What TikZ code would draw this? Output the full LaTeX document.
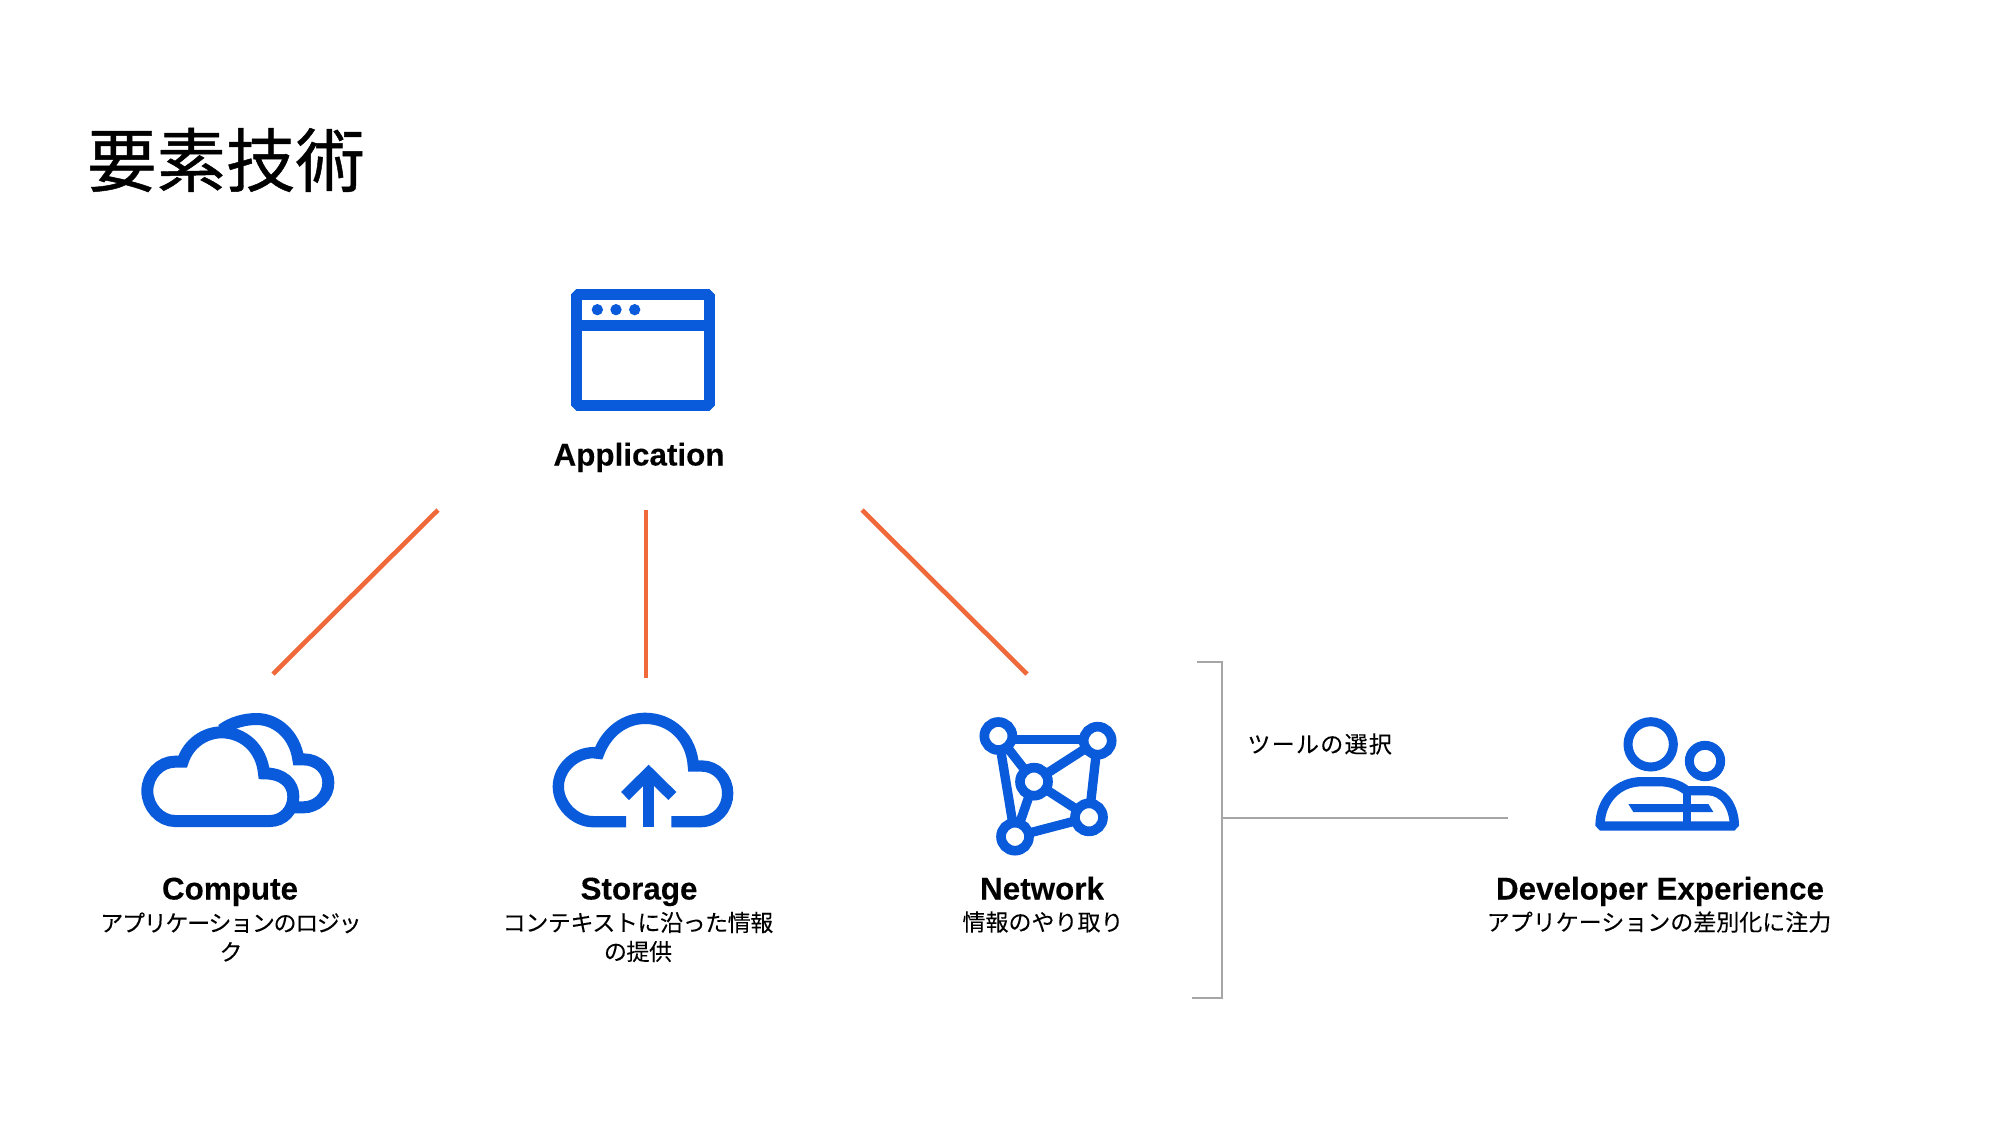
\documentclass[tikz,border=0pt]{standalone}
\usepackage{fontspec}
\setmainfont{Liberation Sans}[BoldFeatures={FakeBold=0.15}]
\newfontfamily\cjk{Noto Sans CJK JP}[FakeBold=0.08]
\newfontfamily\cjktitle{Noto Sans CJK JP}[FakeBold=0.7]
\newfontfamily\cjktight{Noto Sans CJK JP}[FakeBold=0.08,LetterSpace=-5.6]
\newfontfamily\cjkmid{Noto Sans CJK JP}[FakeBold=0.08,LetterSpace=-1.9]
\newfontfamily\cjkwide{Noto Sans CJK JP}[FakeBold=0.08,LetterSpace=5.6]
\definecolor{iconblue}{HTML}{0A5BDB}
\definecolor{linkorange}{HTML}{F0693A}
\definecolor{brk}{HTML}{A6A6A6}
\tikzset{
  icon/.style={x=0.16667pt,y=-0.16667pt,line join=miter,miter limit=10,draw=iconblue},
  ic/.style={draw=iconblue,line width=#1*0.16667pt},
  link/.style={draw=linkorange,line width=2.3pt},
  bracket/.style={draw=brk,line width=1pt},
  head/.style={font=\bfseries\fontsize{15.7}{18}\selectfont,inner sep=0pt,anchor=base},
  sub/.style={font=\cjk\fontsize{11.5}{14.5}\selectfont,inner sep=0pt,align=center,anchor=center},
}
\begin{document}
\begin{tikzpicture}[x=0.5pt,y=-0.5pt]
\useasboundingbox (0,0) rectangle (2000,1125);
\node[font=\cjktitle\fontsize{34.7}{40}\selectfont,inner sep=0pt,anchor=center] (title) at (226,160) {要素技術};

% Application icon
\begin{scope}[shift={(560,280)},icon]
\draw[ic=33,line join=bevel] (48,44) rectangle (448,376);
\draw[ic=33] (48,135) -- (448,135);
\fill[iconblue] (112,89) circle (17) (168,89) circle (17) (224,89) circle (17);
\end{scope}
\node[head] (app) at (639,465.5) {Application};

% connectors
\coordinate (c1a) at (438,510); \coordinate (c1b) at (273,674);
\coordinate (c2a) at (646,510); \coordinate (c2b) at (646,678);
\coordinate (c3a) at (862,510); \coordinate (c3b) at (1027,674);
\draw[link] (c1a) -- (c1b);
\draw[link] (c2a) -- (c2b);
\draw[link] (c3a) -- (c3b);

% Compute icon
\begin{scope}[shift={(120,690)},icon]
\draw[ic=36] (305,120) .. controls (335,97) and (375,87) .. (410,87) .. controls (470,87) and (525,135) .. (535,208) -- (550,208) .. controls (595,208) and (625,240) .. (625,278) .. controls (625,320) and (590,352) .. (550,352) -- (525,352);
\draw[ic=36] (165,393) -- (450,393) .. controls (490,393) and (520,360) .. (520,320) .. controls (520,280) and (490,250) .. (432,250) .. controls (425,175) and (370,127) .. (305,127) .. controls (255,127) and (205,160) .. (188,215) -- (165,215) .. controls (120,215) and (82,255) .. (82,303) .. controls (82,350) and (120,393) .. (165,393) -- cycle;
\end{scope}
\node[head] (compute) at (230,899.5) {Compute};
\node[sub,font=\cjktight\fontsize{11.5}{14.5}\selectfont] (computesub) at (231,937) {アプリケーションのロジッ\\ク};

% Storage icon
\begin{scope}[shift={(540,690)},icon]
\draw[ic=34] (258,395) -- (160,395) .. controls (105,395) and (55,345) .. (55,290) .. controls (55,235) and (105,188) .. (160,188) -- (176,190) .. controls (200,125) and (255,85) .. (315,85) .. controls (395,85) and (455,145) .. (460,228) -- (485,228) .. controls (530,228) and (563,265) .. (563,310) .. controls (563,355) and (530,395) .. (480,395) -- (394,395);
\draw[ic=34] (326,412) -- (326,260);
\draw[ic=34] (255,318) -- (326,248) -- (397,318);
\end{scope}
\node[head] (storage) at (639,899.5) {Storage};
\node[sub,font=\cjkmid\fontsize{11.5}{14.5}\selectfont] (storagesub) at (638,937) {コンテキストに沿った情報\\の提供};

% Network icon
\begin{scope}[shift={(960,700)},icon]
\coordinate (na) at (115,108);
\coordinate (nb) at (413,122);
\coordinate (nc) at (222,245);
\coordinate (nd) at (387,352);
\coordinate (ne) at (165,410);
\coordinate (nh1) at (115,118);
\coordinate (nh2) at (413,118);
\draw[ic=28] (nh1) -- (nh2);
\draw[ic=28] (nb) -- (nd) -- (ne) -- (na) -- (nc) -- (nb) (nc) -- (nd) (nc) -- (ne);
\foreach \p in {na,nb,nc,nd,ne}{\draw[ic=29,fill=white] (\p) circle (42);}
\end{scope}
\node[head] (network) at (1042,899.5) {Network};
\node[sub] (networksub) at (1043,922) {情報のやり取り};

% bracket
\coordinate (bt) at (1197,662); \coordinate (btc) at (1222,662);
\coordinate (bb) at (1192,998); \coordinate (bbc) at (1222,998);
\coordinate (bm) at (1222,818); \coordinate (be) at (1508,818);
\draw[bracket] (bt) -- (btc) -- (bbc) -- (bb);
\draw[bracket] (bm) -- (be);
\node[sub,anchor=west,font=\cjkwide\fontsize{11.5}{14.5}\selectfont] (tool) at (1247,744) {ツールの選択};

% Developer icon
\begin{scope}[shift={(1580,700)},icon]
\draw[ic=27] (212,133) circle (68);
\draw[ic=27] (375,183) circle (47);
\draw[ic=28,line join=bevel] (60,378) .. controls (60,300) and (115,245) .. (185,245) -- (240,245) .. controls (270,245) and (300,255) .. (320,272) -- (385,272) .. controls (430,272) and (463,320) .. (463,378) -- cycle;
\draw[ic=24] (322,275) -- (322,378);
\fill[iconblue] (145,312) -- (385,312) -- (400,336) -- (160,336) -- cycle;
\end{scope}
\node[head] (dev) at (1660,899.5) {Developer Experience};
\node[sub] (devsub) at (1659,922) {アプリケーションの差別化に注力};
\end{tikzpicture}
\end{document}
